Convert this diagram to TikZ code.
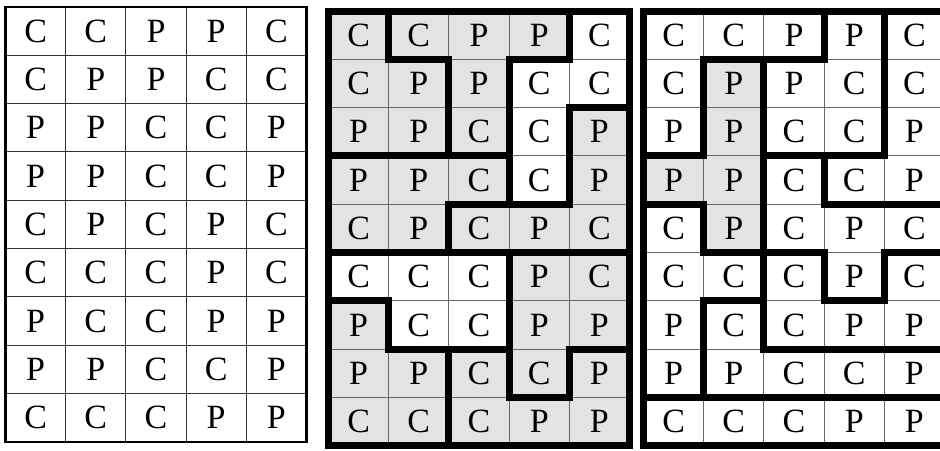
\documentclass[tikz,border=0pt]{standalone}
\usepackage{fontspec}
\setmainfont{Liberation Serif}
\begin{document}
\begin{tikzpicture}[x=1pt,y=-1pt,
  gridunit/.style={x=60.2pt,y=-48.3pt},
  letter/.style={font=\fontsize{34}{34}\selectfont,inner sep=0pt},
  thin/.style={draw=black!60,line width=0.9pt},
  border/.style={draw=black,line width=2.2pt},
  wall/.style={draw=black,line width=7pt,line cap=rect},
  shade/.style={fill=black!11},
]
\clip (0,0) rectangle (940,450);
\fill[white] (0,0) rectangle (940,450);
\def\letters{{C,C,P,P,C},{C,P,P,C,C},{P,P,C,C,P},{P,P,C,C,P},{C,P,C,P,C},%
  {C,C,C,P,C},{P,C,C,P,P},{P,P,C,C,P},{C,C,C,P,P}}
% shaded pieces
\begin{scope}[shift={(328.5,11)},gridunit]
  \fill[shade] (0,0) rectangle (5,9);
  \fill[white] (4,0)--(5,0)--(5,2)--(4,2)--(4,4)--(3,4)--(3,1)--(4,1)--cycle;
  \fill[white] (0,5)--(3,5)--(3,7)--(1,7)--(1,6)--(0,6)--cycle;
\end{scope}
\begin{scope}[shift={(643.5,11)},gridunit]
  \fill[shade] (1,1)--(2,1)--(2,5)--(1,5)--(1,4)--(0,4)--(0,3)--(1,3)--cycle;
\end{scope}
% grids and letters
\foreach \g/\gx/\gy/\gc in {1/5.5/7/80,2/328.5/11/60,3/643.5/11/60}{
  \begin{scope}[shift={(\gx,\gy)},gridunit]
    \foreach \i in {1,...,4} \draw[thin,draw=black!\gc] (\i,0)--(\i,9);
    \foreach \j in {1,...,8} \draw[thin,draw=black!\gc] (0,\j)--(5,\j);
    \foreach [count=\r] \rowlist in \letters{
      \foreach [count=\c] \l in \rowlist{
        \node[letter] (g\g-\r-\c) at (\c-0.5,\r-0.5) {\l};
      }
    }
  \end{scope}
}
\begin{scope}[shift={(5.5,7)},gridunit]
  \draw[border] (0,0) rectangle (5,9);
\end{scope}
% walls of the middle grid
\begin{scope}[shift={(328.5,11)},gridunit]
  \draw[wall] (0,0) rectangle (5,9);
  \draw[wall] (1,0)--(1,1)--(2,1)--(2,3);
  \draw[wall] (0,3)--(3,3);
  \draw[wall] (4,0)--(4,1)--(3,1)--(3,4);
  \draw[wall] (5,2)--(4,2)--(4,4)--(2,4)--(2,5);
  \draw[wall] (0,5)--(5,5);
  \draw[wall] (3,5)--(3,8)--(4,8)--(4,7)--(5,7);
  \draw[wall] (0,6)--(1,6)--(1,7)--(3,7);
  \draw[wall] (2,7)--(2,9);
\end{scope}
% walls of the right grid
\begin{scope}[shift={(643.5,11)},gridunit]
  \draw[wall] (0,0) rectangle (5,9);
  \draw[wall] (3,0)--(3,1)--(1,1)--(1,3)--(0,3);
  \draw[wall] (0,4)--(1,4)--(1,5)--(3,5)--(3,6)--(4,6)--(4,5)--(5,5);
  \draw[wall] (2,1)--(2,7)--(5,7);
  \draw[wall] (4,0)--(4,3)--(2,3);
  \draw[wall] (3,3)--(3,4)--(5,4);
  \draw[wall] (1,6)--(2,6);
  \draw[wall] (1,6)--(1,8);
  \draw[wall] (0,8)--(5,8);
\end{scope}
\end{tikzpicture}
\end{document}
